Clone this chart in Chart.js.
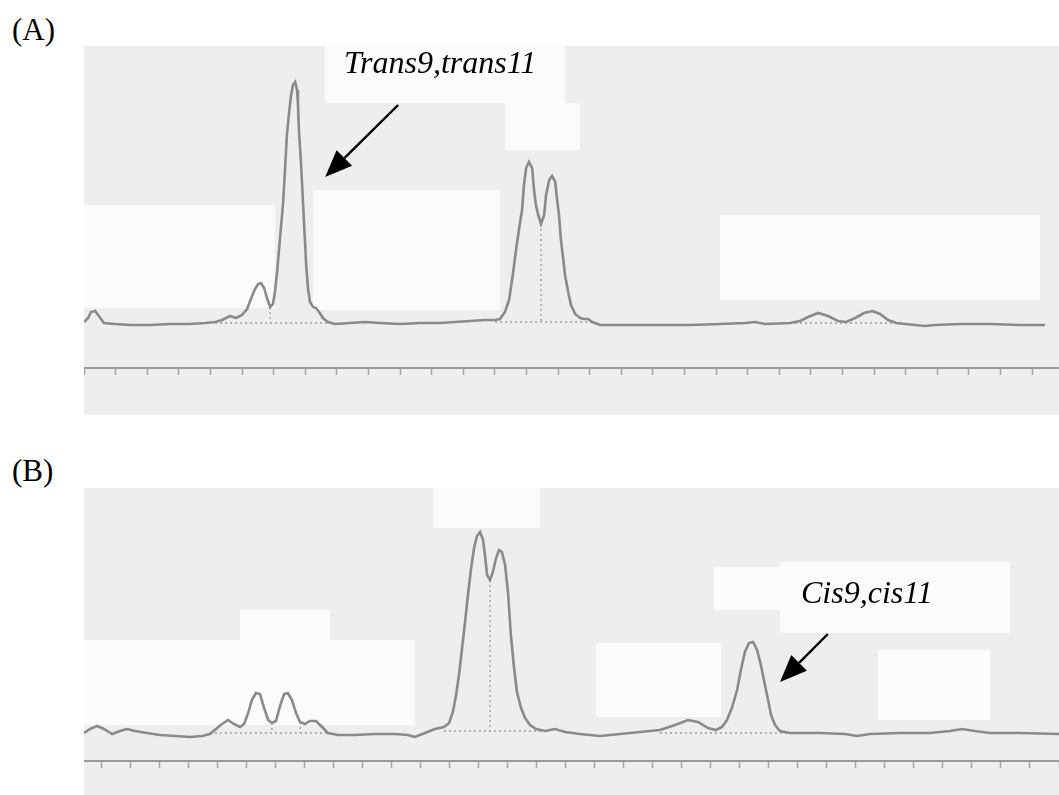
<!DOCTYPE html>
<html>
<head>
<meta charset="utf-8">
<title>GC traces (A) and (B)</title>
<script src="https://cdn.jsdelivr.net/npm/chart.js@4.4.1/dist/chart.umd.min.js"></script>
<style>
    body {
        margin: 0;
        width: 1059px;
        height: 795px;
        background: #ffffff;
        position: relative;
        overflow: hidden;
        font-family: "Liberation Serif", "Times New Roman", serif;
    }
    .panel { position: absolute; left: 84px; width: 975px; }
    #panelA { top: 46px; height: 369px; }
    #panelB { top: 488px; height: 307px; }
    .tag { position: absolute; font-size: 31px; line-height: 1; color: #000; }
    .peak { position: absolute; font-size: 32px; font-style: italic; line-height: 1; color: #000; }
</style>
</head>
<body>

<div class="tag" style="left:12px; top:14px;">(A)</div>
<div class="tag" style="left:12px; top:455px;">(B)</div>

<div class="panel" id="panelA"><canvas id="chartA"></canvas></div>
<div class="panel" id="panelB"><canvas id="chartB"></canvas></div>

<div class="peak" style="left:344px; top:46px;">Trans9,trans11</div>
<div class="peak" style="left:801px; top:576px;">Cis9,cis11</div>

<script>
// ================= DATA : TRACE (A) =================
// retention time (min) and detector signal (arbitrary units)
const timeA = [0.00, 0.13, 0.22, 0.35, 0.47, 0.63, 0.98, 1.46, 2.09, 2.72,
    3.35, 3.83, 4.15, 4.37, 4.62, 4.81, 5.00, 5.16, 5.28, 5.41,
    5.51, 5.60, 5.70, 5.79, 5.89, 5.98, 6.04, 6.11, 6.17, 6.23,
    6.30, 6.36, 6.42, 6.49, 6.55, 6.61, 6.68, 6.74, 6.77, 6.80,
    6.87, 6.93, 6.99, 7.03, 7.09, 7.15, 7.25, 7.34, 7.44, 7.56,
    7.72, 7.94, 8.42, 8.89, 9.37, 10.00, 10.63, 11.27, 11.74, 12.22,
    12.69, 13.01, 13.16, 13.32, 13.45, 13.58, 13.67, 13.77, 13.86, 13.92,
    13.99, 14.08, 14.18, 14.24, 14.30, 14.37, 14.46, 14.56, 14.62, 14.72,
    14.81, 14.91, 14.97, 15.03, 15.09, 15.16, 15.22, 15.32, 15.41, 15.54,
    15.70, 15.82, 15.95, 16.08, 16.33, 17.28, 18.23, 19.18, 20.13, 20.92,
    21.23, 21.55, 22.34, 22.66, 22.91, 23.23, 23.54, 23.86, 24.11, 24.40,
    24.68, 24.94, 25.19, 25.44, 25.70, 25.98, 26.30, 26.61, 26.93, 27.72,
    28.67, 29.62, 30.41];
const signalA = [2, 6, 12, 13, 8, 1, 0, -1, -1, 0,
    0, 1, 2, 4, 8, 6, 9, 15, 25, 35,
    40, 41, 36, 26, 17, 20, 32, 52, 74, 96,
    121, 154, 189, 212, 228, 239, 242, 234, 220, 194,
    159, 121, 84, 59, 35, 22, 17, 16, 12, 6,
    2, 0, 1, 2, 1, 0, 1, 1, 2, 3,
    4, 4, 5, 12, 24, 52, 74, 96, 114, 139,
    156, 162, 156, 134, 119, 109, 100, 109, 129, 144,
    148, 142, 124, 109, 84, 66, 49, 32, 19, 10,
    6, 5, 5, 2, -1, -1, -1, -1, 0, 1,
    2, 0, 1, 3, 7, 11, 8, 3, 2, 6,
    11, 13, 10, 4, 1, 0, -1, -2, -1, 0,
    0, -1, -1];

// integration baselines and peak drop lines (A)
const baseStartA = [4.15, 13.01, 22.34];
const baseEndA   = [7.94, 16.08, 25.98];
const baseLevelA = [1, 2, 1];
const dropTimeA  = [5.89, 14.46];
const dropTopA   = [17, 100];
const dropBaseA  = [1, 2];

// ================= DATA : TRACE (B) =================
const timeB = [0.38, 0.59, 0.83, 1.07, 1.35, 1.62, 1.86, 2.14, 2.55, 3.00,
    3.52, 4.04, 4.45, 4.72, 4.93, 5.14, 5.35, 5.55, 5.76, 5.90,
    6.04, 6.17, 6.31, 6.45, 6.59, 6.73, 6.86, 7.00, 7.14, 7.28,
    7.41, 7.55, 7.69, 7.83, 8.00, 8.17, 8.38, 8.59, 8.79, 9.14,
    9.72, 10.41, 11.10, 11.55, 11.79, 12.14, 12.48, 12.79, 12.97, 13.10,
    13.21, 13.31, 13.41, 13.52, 13.62, 13.72, 13.83, 13.93, 14.04, 14.14,
    14.21, 14.28, 14.38, 14.48, 14.59, 14.69, 14.79, 14.90, 15.00, 15.10,
    15.21, 15.31, 15.45, 15.59, 15.76, 15.97, 16.28, 16.62, 16.97, 17.48,
    18.17, 18.86, 19.55, 20.24, 20.76, 21.21, 21.55, 21.90, 22.17, 22.38,
    22.55, 22.72, 22.90, 23.03, 23.17, 23.31, 23.45, 23.59, 23.72, 23.86,
    23.97, 24.07, 24.21, 24.38, 24.72, 25.76, 26.62, 27.04, 27.48, 28.52,
    29.55, 30.24, 30.66, 31.10, 31.62, 32.66, 34.00];
const signalB = [0, 4, 7, 4, -1, 2, 4, 2, 0, -2,
    -3, -4, -3, -1, 4, 9, 13, 9, 6, 9,
    20, 33, 40, 39, 25, 13, 10, 12, 27, 39,
    40, 33, 20, 11, 9, 12, 12, 6, 0, -2,
    -2, -1, -1, -2, -4, 0, 4, 6, 10, 21,
    38, 58, 83, 111, 138, 163, 185, 197, 201, 193,
    177, 158, 153, 161, 175, 183, 181, 168, 141, 98,
    65, 41, 25, 15, 8, 4, 2, 4, 1, -1,
    -3, -1, 1, 3, 8, 13, 11, 5, 3, 6,
    13, 25, 43, 63, 81, 90, 91, 83, 68, 48,
    33, 18, 8, 2, 0, 0, -1, -3, -1, 0,
    0, 2, 4, 2, 0, 0, -1];

const baseStartB = [4.72, 12.79, 20.24];
const baseEndB   = [8.79, 16.28, 24.72];
const baseLevelB = [0, 2, 0];
const dropTimeB  = [6.86, 7.83, 14.38];
const dropTopB   = [10, 11, 153];
const dropBaseB  = [0, 0, 2];

// peak labels: arrow tail and tip in (time, signal)
const arrowA = { from: [9.94, 219], to: [7.63, 147] };
const arrowB = { from: [26.03, 99], to: [24.38, 51] };

// ================= PLUGINS =================
// scanned paper look: light grey with white cover-up patches (canvas px)
const scanBackdrop = {
    id: 'scanBackdrop',
    beforeDraw(chart, args, opts) {
        const ctx = chart.ctx;
        ctx.save();
        ctx.fillStyle = opts.paper;
        ctx.fillRect(0, 0, chart.width, chart.height);
        ctx.fillStyle = '#fbfbfb';
        opts.patches.forEach(p => ctx.fillRect(p[0], p[1], p[2], p[3]));
        ctx.restore();
    }
};

const arrowNote = {
    id: 'arrowNote',
    afterDatasetsDraw(chart, args, opts) {
        const xs = chart.scales.x, ys = chart.scales.y;
        const x0 = xs.getPixelForValue(opts.from[0]), y0 = ys.getPixelForValue(opts.from[1]);
        const x1 = xs.getPixelForValue(opts.to[0]), y1 = ys.getPixelForValue(opts.to[1]);
        const ang = Math.atan2(y1 - y0, x1 - x0);
        const len = 27, half = 11;
        const bx = x1 - len * Math.cos(ang), by = y1 - len * Math.sin(ang);
        const ctx = chart.ctx;
        ctx.save();
        ctx.strokeStyle = '#000';
        ctx.fillStyle = '#000';
        ctx.lineWidth = 2.4;
        ctx.beginPath();
        ctx.moveTo(x0, y0);
        ctx.lineTo(bx, by);
        ctx.stroke();
        ctx.beginPath();
        ctx.moveTo(x1, y1);
        ctx.lineTo(bx + half * Math.sin(ang), by - half * Math.cos(ang));
        ctx.lineTo(bx - half * Math.sin(ang), by + half * Math.cos(ang));
        ctx.closePath();
        ctx.fill();
        ctx.restore();
    }
};

// ================= BUILD ONE PANEL =================
function markerPoints(start, end, level, dropT, dropTop, dropBase) {
    let pts = [];
    for (let i = 0; i < start.length; i++) {
        pts.push({ x: start[i], y: level[i] }, { x: end[i], y: level[i] }, { x: end[i], y: null });
    }
    for (let i = 0; i < dropT.length; i++) {
        pts.push({ x: dropT[i], y: dropTop[i] }, { x: dropT[i], y: dropBase[i] }, { x: dropT[i], y: null });
    }
    return pts;
}

function makePanel(id, p) {
    const trace = p.time.map((t, i) => ({ x: t, y: p.signal[i] }));
    return new Chart(document.getElementById(id), {
        type: 'line',
        data: {
            datasets: [{
                data: trace,
                borderColor: '#8a8a8a',
                borderWidth: 2.6,
                pointRadius: 0,
                tension: 0
            }, {
                data: p.markers,
                borderColor: '#9c9c9c',
                borderWidth: 1.3,
                borderDash: [2, 3],
                pointRadius: 0,
                spanGaps: false
            }]
        },
        options: {
            responsive: true,
            maintainAspectRatio: false,
            animation: false,
            parsing: false,
            layout: { padding: { left: 0, right: 0, top: 0, bottom: p.padBottom } },
            plugins: {
                legend: { display: false },
                tooltip: { enabled: false },
                scanBackdrop: { paper: '#eeeeee', patches: p.patches },
                arrowNote: p.arrow
            },
            scales: {
                x: {
                    type: 'linear',
                    min: p.xMin,
                    max: p.xMax,
                    ticks: { display: false, stepSize: 1, includeBounds: false, maxTicksLimit: 100 },
                    grid: { display: true, drawOnChartArea: false, drawTicks: true, tickLength: 7, tickWidth: 1.5, tickColor: '#a6a6a6' },
                    border: { display: true, color: '#9a9a9a', width: 2 }
                },
                y: {
                    display: false,
                    min: p.yMin,
                    max: p.yMax
                }
            }
        },
        plugins: [scanBackdrop, arrowNote]
    });
}

window.onload = function () {
    makePanel('chartA', {
        time: timeA, signal: signalA,
        markers: markerPoints(baseStartA, baseEndA, baseLevelA, dropTimeA, dropTopA, dropBaseA),
        xMin: 0, xMax: 30.85, yMin: -44, yMax: 278, padBottom: 40,
        arrow: arrowA,
        patches: [[241, 0, 240, 57], [421, 57, 75, 47], [0, 159, 191, 103], [229, 144, 187, 120], [636, 169, 320, 85]]
    });
    makePanel('chartB', {
        time: timeB, signal: signalB,
        markers: markerPoints(baseStartB, baseEndB, baseLevelB, dropTimeB, dropTopB, dropBaseB),
        xMin: 0.38, xMax: 34.0, yMin: -28, yMax: 245, padBottom: 27,
        arrow: arrowB,
        patches: [[349, 0, 107, 40], [0, 152, 331, 85], [156, 122, 90, 30], [696, 74, 230, 71], [630, 79, 66, 43], [512, 155, 125, 74], [794, 162, 112, 70]]
    });
};
</script>
</body>
</html>
